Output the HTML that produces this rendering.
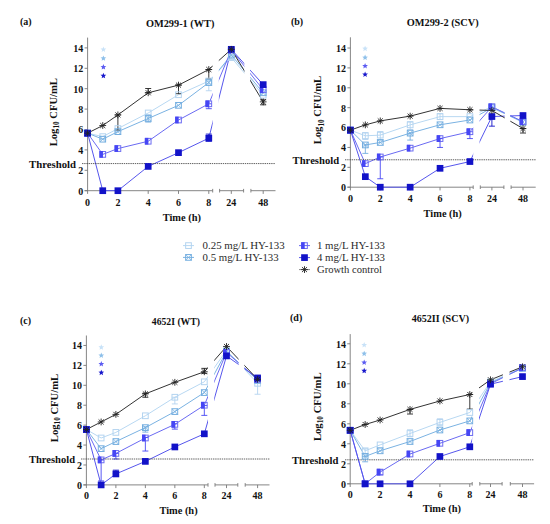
<!DOCTYPE html>
<html><head><meta charset="utf-8"><style>
html,body{margin:0;padding:0;background:#fff;}
body{width:550px;height:524px;overflow:hidden;}
svg{display:block;}
text{font-family:"Liberation Serif",serif;}
.b{font-weight:bold;}
</style></head><body>
<svg width="550" height="524" viewBox="0 0 550 524">
<rect width="550" height="524" fill="#fff"/>

<clipPath id="cla"><rect x="82.6" y="0" width="130.1" height="524"/><rect x="218.8" y="0" width="25.6" height="524"/><rect x="250.1" y="0" width="29.6" height="524"/></clipPath>
<g stroke="#787878" stroke-width="0.9" fill="none">
<path d="M87.6 37.6V193.9"/>
<path d="M84.6 190.7H212.7M219.6 190.7H243.6M250.9 190.7H275.5"/>
<path d="M84.6 190.7H87.6"/>
<path d="M84.6 170.3H87.6"/>
<path d="M84.6 149.9H87.6"/>
<path d="M84.6 129.5H87.6"/>
<path d="M84.6 109.1H87.6"/>
<path d="M84.6 88.7H87.6"/>
<path d="M84.6 68.3H87.6"/>
<path d="M84.6 47.9H87.6"/>
<path d="M117.9 190.7V193.9"/>
<path d="M148.2 190.7V193.9"/>
<path d="M178.5 190.7V193.9"/>
<path d="M208.8 190.7V193.9"/>
<path d="M231.3 190.7V193.9"/>
<path d="M263.2 190.7V193.9"/>
<path d="M212.7 188.9V192.5"/>
<path d="M219.6 188.9V192.5"/>
<path d="M243.6 188.9V192.5"/>
<path d="M250.9 188.9V192.5"/>
</g>
<g class="b" font-size="10" text-anchor="end" fill="#111">
<text x="83.3" y="194.6">0</text>
<text x="83.3" y="174.2">2</text>
<text x="83.3" y="153.8">4</text>
<text x="83.3" y="133.4">6</text>
<text x="83.3" y="113">8</text>
<text x="83.3" y="92.6">10</text>
<text x="83.3" y="72.2">12</text>
<text x="83.3" y="51.8">14</text>
</g>
<g class="b" font-size="10" text-anchor="middle" fill="#111">
<text x="87.6" y="205.5">0</text>
<text x="117.9" y="205.5">2</text>
<text x="148.2" y="205.5">4</text>
<text x="178.5" y="205.5">6</text>
<text x="208.8" y="205.5">8</text>
<text x="231.3" y="205.5">24</text>
<text x="263.2" y="205.5">48</text>
</g>
<g clip-path="url(#cla)" fill="none" stroke-width="1">
<polyline points="87.6,133.17 102.75,136.64 117.9,128.58 148.2,112.98 178.5,94.72 208.8,81.05 231.3,57.59 263.2,95.23" stroke="#b8d8f2"/>
<polyline points="87.6,133.17 102.75,139.19 117.9,131.64 148.2,118.48 178.5,105.33 208.8,82.58 231.3,55.04 263.2,92.78" stroke="#7ab2e2"/>
<polyline points="87.6,133.17 102.75,154.39 117.9,148.57 148.2,141.23 178.5,120.01 208.8,103.8 231.3,49.94 263.2,89.72" stroke="#6a6af2"/>
<polyline points="87.6,133.17 102.75,190.7 117.9,190.7 148.2,166.42 178.5,152.65 208.8,138.17 231.3,49.33 263.2,84.62" stroke="#5656ec"/>
<polyline points="87.6,133.17 102.75,125.52 117.9,114.91 148.2,92.78 178.5,85.13 208.8,69.52 231.3,49.33 263.2,101.86" stroke="#333333"/>
</g>
<g fill="none" stroke-width="0.9">
<path d="M148.2 92.78V88.5M145.2 92.78H151.2M145.2 88.5H151.2" stroke="#222222"/>
<path d="M178.5 93.7V84.93M175.5 93.7H181.5M175.5 84.93H181.5" stroke="#222222"/>
<path d="M117.9 130.11V114.91M114.9 130.11H120.9M114.9 114.91H120.9" stroke="#222222"/>
<path d="M208.8 90.74V81.05M205.8 90.74H211.8M205.8 81.05H211.8" stroke="#b4d4f0"/>
<path d="M208.8 108.69V103.8M205.8 108.69H211.8M205.8 103.8H211.8" stroke="#4646f4"/>
<path d="M208.8 78.81V69.52M205.8 78.81H211.8M205.8 69.52H211.8" stroke="#222222"/>
<path d="M208.8 141.23V134.09M205.8 141.23H211.8M205.8 134.09H211.8" stroke="#1212c8"/>
<path d="M148.2 122.05V114.91M145.2 122.05H151.2M145.2 114.91H151.2" stroke="#74aee0"/>
<path d="M263.2 104.82V99.82M260.2 104.82H266.2M260.2 99.82H266.2" stroke="#222222"/>
<path d="M231.3 59.43V55.35M228.3 59.43H234.3M228.3 55.35H234.3" stroke="#b4d4f0"/>
</g>
<path d="M82 163.57H275" stroke="#3a3a3a" stroke-width="0.8" stroke-dasharray="1.4 0.8"/>
<rect x="84.75" y="130.32" width="5.7" height="5.7" fill="none" stroke="#b4d4f0" stroke-width="1"/>
<rect x="99.9" y="133.79" width="5.7" height="5.7" fill="none" stroke="#b4d4f0" stroke-width="1"/>
<rect x="115.05" y="125.73" width="5.7" height="5.7" fill="none" stroke="#b4d4f0" stroke-width="1"/>
<rect x="145.35" y="110.13" width="5.7" height="5.7" fill="none" stroke="#b4d4f0" stroke-width="1"/>
<rect x="175.65" y="91.87" width="5.7" height="5.7" fill="none" stroke="#b4d4f0" stroke-width="1"/>
<rect x="205.95" y="78.2" width="5.7" height="5.7" fill="none" stroke="#b4d4f0" stroke-width="1"/>
<rect x="228.45" y="54.74" width="5.7" height="5.7" fill="none" stroke="#b4d4f0" stroke-width="1"/>
<rect x="260.35" y="92.38" width="5.7" height="5.7" fill="none" stroke="#b4d4f0" stroke-width="1"/>
<rect x="84.75" y="130.32" width="5.7" height="5.7" fill="none" stroke="#74aee0" stroke-width="1"/><path d="M84.75 130.32L90.45 136.02M90.45 130.32L84.75 136.02" stroke="#74aee0" stroke-width="0.8"/>
<rect x="99.9" y="136.34" width="5.7" height="5.7" fill="none" stroke="#74aee0" stroke-width="1"/><path d="M99.9 136.34L105.6 142.04M105.6 136.34L99.9 142.04" stroke="#74aee0" stroke-width="0.8"/>
<rect x="115.05" y="128.79" width="5.7" height="5.7" fill="none" stroke="#74aee0" stroke-width="1"/><path d="M115.05 128.79L120.75 134.49M120.75 128.79L115.05 134.49" stroke="#74aee0" stroke-width="0.8"/>
<rect x="145.35" y="115.63" width="5.7" height="5.7" fill="none" stroke="#74aee0" stroke-width="1"/><path d="M145.35 115.63L151.05 121.33M151.05 115.63L145.35 121.33" stroke="#74aee0" stroke-width="0.8"/>
<rect x="175.65" y="102.48" width="5.7" height="5.7" fill="none" stroke="#74aee0" stroke-width="1"/><path d="M175.65 102.48L181.35 108.18M181.35 102.48L175.65 108.18" stroke="#74aee0" stroke-width="0.8"/>
<rect x="205.95" y="79.73" width="5.7" height="5.7" fill="none" stroke="#74aee0" stroke-width="1"/><path d="M205.95 79.73L211.65 85.43M211.65 79.73L205.95 85.43" stroke="#74aee0" stroke-width="0.8"/>
<rect x="228.45" y="52.19" width="5.7" height="5.7" fill="none" stroke="#74aee0" stroke-width="1"/><path d="M228.45 52.19L234.15 57.89M234.15 52.19L228.45 57.89" stroke="#74aee0" stroke-width="0.8"/>
<rect x="260.35" y="89.93" width="5.7" height="5.7" fill="none" stroke="#74aee0" stroke-width="1"/><path d="M260.35 89.93L266.05 95.63M266.05 89.93L260.35 95.63" stroke="#74aee0" stroke-width="0.8"/>
<rect x="84.75" y="130.32" width="5.7" height="5.7" fill="none" stroke="#6c6cf2" stroke-width="1"/><rect x="84.25" y="129.82" width="3.55" height="6.7" fill="#4646f4"/>
<rect x="99.9" y="151.54" width="5.7" height="5.7" fill="none" stroke="#6c6cf2" stroke-width="1"/><rect x="99.4" y="151.04" width="3.55" height="6.7" fill="#4646f4"/>
<rect x="115.05" y="145.72" width="5.7" height="5.7" fill="none" stroke="#6c6cf2" stroke-width="1"/><rect x="114.55" y="145.22" width="3.55" height="6.7" fill="#4646f4"/>
<rect x="145.35" y="138.38" width="5.7" height="5.7" fill="none" stroke="#6c6cf2" stroke-width="1"/><rect x="144.85" y="137.88" width="3.55" height="6.7" fill="#4646f4"/>
<rect x="175.65" y="117.16" width="5.7" height="5.7" fill="none" stroke="#6c6cf2" stroke-width="1"/><rect x="175.15" y="116.66" width="3.55" height="6.7" fill="#4646f4"/>
<rect x="205.95" y="100.95" width="5.7" height="5.7" fill="none" stroke="#6c6cf2" stroke-width="1"/><rect x="205.45" y="100.45" width="3.55" height="6.7" fill="#4646f4"/>
<rect x="228.45" y="47.09" width="5.7" height="5.7" fill="none" stroke="#6c6cf2" stroke-width="1"/><rect x="227.95" y="46.59" width="3.55" height="6.7" fill="#4646f4"/>
<rect x="260.35" y="86.87" width="5.7" height="5.7" fill="none" stroke="#6c6cf2" stroke-width="1"/><rect x="259.85" y="86.37" width="3.55" height="6.7" fill="#4646f4"/>
<rect x="84.25" y="129.82" width="6.7" height="6.7" fill="#1212c8"/>
<rect x="99.4" y="187.35" width="6.7" height="6.7" fill="#1212c8"/>
<rect x="114.55" y="187.35" width="6.7" height="6.7" fill="#1212c8"/>
<rect x="144.85" y="163.07" width="6.7" height="6.7" fill="#1212c8"/>
<rect x="175.15" y="149.3" width="6.7" height="6.7" fill="#1212c8"/>
<rect x="205.45" y="134.82" width="6.7" height="6.7" fill="#1212c8"/>
<rect x="227.95" y="45.98" width="6.7" height="6.7" fill="#1212c8"/>
<rect x="259.85" y="81.27" width="6.7" height="6.7" fill="#1212c8"/>
<path d="M87.6 129.77V136.57M84.2 133.17H91M85.08 130.66L90.12 135.69M90.12 130.66L85.08 135.69" stroke="#222222" stroke-width="0.9"/>
<path d="M102.75 122.12V128.92M99.35 125.52H106.15M100.23 123.01L105.27 128.04M105.27 123.01L100.23 128.04" stroke="#222222" stroke-width="0.9"/>
<path d="M117.9 111.51V118.31M114.5 114.91H121.3M115.38 112.4L120.42 117.43M120.42 112.4L115.38 117.43" stroke="#222222" stroke-width="0.9"/>
<path d="M148.2 89.38V96.18M144.8 92.78H151.6M145.68 90.26L150.72 95.3M150.72 90.26L145.68 95.3" stroke="#222222" stroke-width="0.9"/>
<path d="M178.5 81.73V88.53M175.1 85.13H181.9M175.98 82.61L181.02 87.65M181.02 82.61L175.98 87.65" stroke="#222222" stroke-width="0.9"/>
<path d="M208.8 66.12V72.92M205.4 69.52H212.2M206.28 67.01L211.32 72.04M211.32 67.01L206.28 72.04" stroke="#222222" stroke-width="0.9"/>
<path d="M231.3 45.93V52.73M227.9 49.33H234.7M228.78 46.81L233.82 51.84M233.82 46.81L228.78 51.84" stroke="#222222" stroke-width="0.9"/>
<path d="M263.2 98.46V105.26M259.8 101.86H266.6M260.68 99.34L265.72 104.37M265.72 99.34L260.68 104.37" stroke="#222222" stroke-width="0.9"/>
<polygon points="103.4,46.5 104.19,48.41 106.25,48.57 104.68,49.92 105.16,51.93 103.4,50.85 101.64,51.93 102.12,49.92 100.55,48.57 102.61,48.41" fill="#c8e2f8"/>
<polygon points="103.4,55.4 104.19,57.31 106.25,57.47 104.68,58.82 105.16,60.83 103.4,59.75 101.64,60.83 102.12,58.82 100.55,57.47 102.61,57.31" fill="#8ec0ea"/>
<polygon points="103.4,64.1 104.19,66.01 106.25,66.17 104.68,67.52 105.16,69.53 103.4,68.45 101.64,69.53 102.12,67.52 100.55,66.17 102.61,66.01" fill="#5c5cf2"/>
<polygon points="103.4,72.8 104.19,74.71 106.25,74.87 104.68,76.22 105.16,78.23 103.4,77.15 101.64,78.23 102.12,76.22 100.55,74.87 102.61,74.71" fill="#1818cc"/>
<text class="b" x="20" y="25.4" font-size="10" fill="#111">(a)</text>
<text class="b" x="180.2" y="27.3" font-size="11" text-anchor="middle" fill="#111" textLength="68.5" lengthAdjust="spacingAndGlyphs">OM299-1 (WT)</text>
<text class="b" x="76" y="167.5" font-size="11" text-anchor="end" fill="#111" textLength="47" lengthAdjust="spacingAndGlyphs">Threshold</text>
<text class="b" x="181.8" y="220.5" font-size="11" text-anchor="middle" fill="#111" textLength="38.2" lengthAdjust="spacingAndGlyphs">Time (h)</text>
<text class="b" transform="translate(56.8,112.2) rotate(-90)" font-size="11" text-anchor="middle" fill="#111" textLength="68.2" lengthAdjust="spacingAndGlyphs">Log<tspan font-size="7.5" dy="2.5">10</tspan><tspan dy="-2.5"> CFU/mL</tspan></text>
<clipPath id="clb"><rect x="345.4" y="0" width="127.8" height="524"/><rect x="479.5" y="0" width="25.2" height="524"/><rect x="510.3" y="0" width="29.6" height="524"/></clipPath>
<g stroke="#787878" stroke-width="0.9" fill="none">
<path d="M350.4 37.3V190.4"/>
<path d="M347.4 187.2H473.2M480.3 187.2H503.9M511.1 187.2H535.7"/>
<path d="M347.4 187.2H350.4"/>
<path d="M347.4 167.32H350.4"/>
<path d="M347.4 147.44H350.4"/>
<path d="M347.4 127.56H350.4"/>
<path d="M347.4 107.68H350.4"/>
<path d="M347.4 87.8H350.4"/>
<path d="M347.4 67.92H350.4"/>
<path d="M347.4 48.04H350.4"/>
<path d="M380.28 187.2V190.4"/>
<path d="M410.16 187.2V190.4"/>
<path d="M440.04 187.2V190.4"/>
<path d="M469.92 187.2V190.4"/>
<path d="M491.9 187.2V190.4"/>
<path d="M523 187.2V190.4"/>
<path d="M473.2 185.4V189"/>
<path d="M480.3 185.4V189"/>
<path d="M503.9 185.4V189"/>
<path d="M511.1 185.4V189"/>
</g>
<g class="b" font-size="10" text-anchor="end" fill="#111">
<text x="346.1" y="191.1">0</text>
<text x="346.1" y="171.22">2</text>
<text x="346.1" y="151.34">4</text>
<text x="346.1" y="131.46">6</text>
<text x="346.1" y="111.58">8</text>
<text x="346.1" y="91.7">10</text>
<text x="346.1" y="71.82">12</text>
<text x="346.1" y="51.94">14</text>
</g>
<g class="b" font-size="10" text-anchor="middle" fill="#111">
<text x="350.4" y="201.8">0</text>
<text x="380.28" y="201.8">2</text>
<text x="410.16" y="201.8">4</text>
<text x="440.04" y="201.8">6</text>
<text x="469.92" y="201.8">8</text>
<text x="491.9" y="201.8">24</text>
<text x="523" y="201.8">48</text>
</g>
<g clip-path="url(#clb)" fill="none" stroke-width="1">
<polyline points="350.4,130.14 365.34,135.81 380.28,135.11 410.16,124.88 440.04,116.63 469.92,116.63 491.9,106.69 523,122.59" stroke="#b8d8f2"/>
<polyline points="350.4,130.14 365.34,144.95 380.28,142.47 410.16,133.13 440.04,124.78 469.92,120.01 491.9,107.68 523,122.09" stroke="#7ab2e2"/>
<polyline points="350.4,130.14 365.34,163.64 380.28,156.98 410.16,148.14 440.04,138.59 469.92,131.73 491.9,106.79 523,121.6" stroke="#6a6af2"/>
<polyline points="350.4,130.14 365.34,176.66 380.28,187.2 410.16,187.2 440.04,168.31 469.92,161.55 491.9,116.53 523,115.53" stroke="#5656ec"/>
<polyline points="350.4,130.14 365.34,124.88 380.28,120.9 410.16,116.13 440.04,108.38 469.92,109.77 491.9,110.46 523,128.55" stroke="#333333"/>
</g>
<g fill="none" stroke-width="0.9">
<path d="M380.28 178.75V156.98M377.28 178.75H383.28M377.28 156.98H383.28" stroke="#4646f4"/>
<path d="M440.04 147.44V138.59M437.04 147.44H443.04M437.04 138.59H443.04" stroke="#4646f4"/>
<path d="M469.92 138.59V131.73M466.92 138.59H472.92M466.92 131.73H472.92" stroke="#4646f4"/>
<path d="M410.16 140.08V133.13M407.16 140.08H413.16M407.16 133.13H413.16" stroke="#74aee0"/>
<path d="M365.34 153.4V144.95M362.34 153.4H368.34M362.34 144.95H368.34" stroke="#74aee0"/>
<path d="M491.9 126.17V116.53M488.9 126.17H494.9M488.9 116.53H494.9" stroke="#1212c8"/>
<path d="M523 133.03V128.55M520 133.03H526M520 128.55H526" stroke="#222222"/>
<path d="M380.28 140.48V131.54M377.28 140.48H383.28M377.28 131.54H383.28" stroke="#b4d4f0"/>
<path d="M410.16 129.55V121.6M407.16 129.55H413.16M407.16 121.6H413.16" stroke="#b4d4f0"/>
<path d="M365.34 139.49V132.53M362.34 139.49H368.34M362.34 132.53H368.34" stroke="#b4d4f0"/>
<path d="M440.04 119.61V113.64M437.04 119.61H443.04M437.04 113.64H443.04" stroke="#b4d4f0"/>
</g>
<path d="M345 159.77H535.7" stroke="#3a3a3a" stroke-width="0.8" stroke-dasharray="1.4 0.8"/>
<rect x="347.55" y="127.29" width="5.7" height="5.7" fill="none" stroke="#b4d4f0" stroke-width="1"/>
<rect x="362.49" y="132.96" width="5.7" height="5.7" fill="none" stroke="#b4d4f0" stroke-width="1"/>
<rect x="377.43" y="132.26" width="5.7" height="5.7" fill="none" stroke="#b4d4f0" stroke-width="1"/>
<rect x="407.31" y="122.03" width="5.7" height="5.7" fill="none" stroke="#b4d4f0" stroke-width="1"/>
<rect x="437.19" y="113.78" width="5.7" height="5.7" fill="none" stroke="#b4d4f0" stroke-width="1"/>
<rect x="467.07" y="113.78" width="5.7" height="5.7" fill="none" stroke="#b4d4f0" stroke-width="1"/>
<rect x="489.05" y="103.84" width="5.7" height="5.7" fill="none" stroke="#b4d4f0" stroke-width="1"/>
<rect x="520.15" y="119.74" width="5.7" height="5.7" fill="none" stroke="#b4d4f0" stroke-width="1"/>
<rect x="347.55" y="127.29" width="5.7" height="5.7" fill="none" stroke="#74aee0" stroke-width="1"/><path d="M347.55 127.29L353.25 132.99M353.25 127.29L347.55 132.99" stroke="#74aee0" stroke-width="0.8"/>
<rect x="362.49" y="142.1" width="5.7" height="5.7" fill="none" stroke="#74aee0" stroke-width="1"/><path d="M362.49 142.1L368.19 147.8M368.19 142.1L362.49 147.8" stroke="#74aee0" stroke-width="0.8"/>
<rect x="377.43" y="139.62" width="5.7" height="5.7" fill="none" stroke="#74aee0" stroke-width="1"/><path d="M377.43 139.62L383.13 145.32M383.13 139.62L377.43 145.32" stroke="#74aee0" stroke-width="0.8"/>
<rect x="407.31" y="130.28" width="5.7" height="5.7" fill="none" stroke="#74aee0" stroke-width="1"/><path d="M407.31 130.28L413.01 135.98M413.01 130.28L407.31 135.98" stroke="#74aee0" stroke-width="0.8"/>
<rect x="437.19" y="121.93" width="5.7" height="5.7" fill="none" stroke="#74aee0" stroke-width="1"/><path d="M437.19 121.93L442.89 127.63M442.89 121.93L437.19 127.63" stroke="#74aee0" stroke-width="0.8"/>
<rect x="467.07" y="117.16" width="5.7" height="5.7" fill="none" stroke="#74aee0" stroke-width="1"/><path d="M467.07 117.16L472.77 122.86M472.77 117.16L467.07 122.86" stroke="#74aee0" stroke-width="0.8"/>
<rect x="489.05" y="104.83" width="5.7" height="5.7" fill="none" stroke="#74aee0" stroke-width="1"/><path d="M489.05 104.83L494.75 110.53M494.75 104.83L489.05 110.53" stroke="#74aee0" stroke-width="0.8"/>
<rect x="520.15" y="119.24" width="5.7" height="5.7" fill="none" stroke="#74aee0" stroke-width="1"/><path d="M520.15 119.24L525.85 124.94M525.85 119.24L520.15 124.94" stroke="#74aee0" stroke-width="0.8"/>
<rect x="347.55" y="127.29" width="5.7" height="5.7" fill="none" stroke="#6c6cf2" stroke-width="1"/><rect x="347.05" y="126.79" width="3.55" height="6.7" fill="#4646f4"/>
<rect x="362.49" y="160.79" width="5.7" height="5.7" fill="none" stroke="#6c6cf2" stroke-width="1"/><rect x="361.99" y="160.29" width="3.55" height="6.7" fill="#4646f4"/>
<rect x="377.43" y="154.13" width="5.7" height="5.7" fill="none" stroke="#6c6cf2" stroke-width="1"/><rect x="376.93" y="153.63" width="3.55" height="6.7" fill="#4646f4"/>
<rect x="407.31" y="145.29" width="5.7" height="5.7" fill="none" stroke="#6c6cf2" stroke-width="1"/><rect x="406.81" y="144.79" width="3.55" height="6.7" fill="#4646f4"/>
<rect x="437.19" y="135.74" width="5.7" height="5.7" fill="none" stroke="#6c6cf2" stroke-width="1"/><rect x="436.69" y="135.24" width="3.55" height="6.7" fill="#4646f4"/>
<rect x="467.07" y="128.88" width="5.7" height="5.7" fill="none" stroke="#6c6cf2" stroke-width="1"/><rect x="466.57" y="128.38" width="3.55" height="6.7" fill="#4646f4"/>
<rect x="489.05" y="103.94" width="5.7" height="5.7" fill="none" stroke="#6c6cf2" stroke-width="1"/><rect x="488.55" y="103.44" width="3.55" height="6.7" fill="#4646f4"/>
<rect x="520.15" y="118.75" width="5.7" height="5.7" fill="none" stroke="#6c6cf2" stroke-width="1"/><rect x="519.65" y="118.25" width="3.55" height="6.7" fill="#4646f4"/>
<rect x="347.05" y="126.79" width="6.7" height="6.7" fill="#1212c8"/>
<rect x="361.99" y="173.31" width="6.7" height="6.7" fill="#1212c8"/>
<rect x="376.93" y="183.85" width="6.7" height="6.7" fill="#1212c8"/>
<rect x="406.81" y="183.85" width="6.7" height="6.7" fill="#1212c8"/>
<rect x="436.69" y="164.96" width="6.7" height="6.7" fill="#1212c8"/>
<rect x="466.57" y="158.2" width="6.7" height="6.7" fill="#1212c8"/>
<rect x="488.55" y="113.18" width="6.7" height="6.7" fill="#1212c8"/>
<rect x="519.65" y="112.18" width="6.7" height="6.7" fill="#1212c8"/>
<path d="M350.4 126.74V133.54M347 130.14H353.8M347.88 127.63L352.92 132.66M352.92 127.63L347.88 132.66" stroke="#222222" stroke-width="0.9"/>
<path d="M365.34 121.48V128.28M361.94 124.88H368.74M362.82 122.36L367.86 127.39M367.86 122.36L362.82 127.39" stroke="#222222" stroke-width="0.9"/>
<path d="M380.28 117.5V124.3M376.88 120.9H383.68M377.76 118.38L382.8 123.42M382.8 118.38L377.76 123.42" stroke="#222222" stroke-width="0.9"/>
<path d="M410.16 112.73V119.53M406.76 116.13H413.56M407.64 113.61L412.68 118.64M412.68 113.61L407.64 118.64" stroke="#222222" stroke-width="0.9"/>
<path d="M440.04 104.98V111.78M436.64 108.38H443.44M437.52 105.86L442.56 110.89M442.56 105.86L437.52 110.89" stroke="#222222" stroke-width="0.9"/>
<path d="M469.92 106.37V113.17M466.52 109.77H473.32M467.4 107.25L472.44 112.28M472.44 107.25L467.4 112.28" stroke="#222222" stroke-width="0.9"/>
<path d="M491.9 107.06V113.86M488.5 110.46H495.3M489.38 107.95L494.42 112.98M494.42 107.95L489.38 112.98" stroke="#222222" stroke-width="0.9"/>
<path d="M523 125.15V131.95M519.6 128.55H526.4M520.48 126.04L525.52 131.07M525.52 126.04L520.48 131.07" stroke="#222222" stroke-width="0.9"/>
<polygon points="365.1,45.7 365.89,47.61 367.95,47.77 366.38,49.12 366.86,51.13 365.1,50.05 363.34,51.13 363.82,49.12 362.25,47.77 364.31,47.61" fill="#c8e2f8"/>
<polygon points="365.1,54.6 365.89,56.51 367.95,56.67 366.38,58.02 366.86,60.03 365.1,58.95 363.34,60.03 363.82,58.02 362.25,56.67 364.31,56.51" fill="#8ec0ea"/>
<polygon points="365.1,63 365.89,64.91 367.95,65.07 366.38,66.42 366.86,68.43 365.1,67.35 363.34,68.43 363.82,66.42 362.25,65.07 364.31,64.91" fill="#5c5cf2"/>
<polygon points="365.1,71.5 365.89,73.41 367.95,73.57 366.38,74.92 366.86,76.93 365.1,75.85 363.34,76.93 363.82,74.92 362.25,73.57 364.31,73.41" fill="#1818cc"/>
<text class="b" x="290.9" y="25.4" font-size="10" fill="#111">(b)</text>
<text class="b" x="442.7" y="26.4" font-size="11" text-anchor="middle" fill="#111" textLength="72" lengthAdjust="spacingAndGlyphs">OM299-2 (SCV)</text>
<text class="b" x="339.1" y="163.6" font-size="11" text-anchor="end" fill="#111" textLength="46.5" lengthAdjust="spacingAndGlyphs">Threshold</text>
<text class="b" x="442.7" y="216.9" font-size="11" text-anchor="middle" fill="#111" textLength="38.2" lengthAdjust="spacingAndGlyphs">Time (h)</text>
<text class="b" transform="translate(321.4,110.1) rotate(-90)" font-size="11" text-anchor="middle" fill="#111" textLength="68.4" lengthAdjust="spacingAndGlyphs">Log<tspan font-size="7.5" dy="2.5">10</tspan><tspan dy="-2.5"> CFU/mL</tspan></text>
<clipPath id="clc"><rect x="81.4" y="0" width="126.6" height="524"/><rect x="214.2" y="0" width="24.4" height="524"/><rect x="244.4" y="0" width="29.3" height="524"/></clipPath>
<g stroke="#787878" stroke-width="0.9" fill="none">
<path d="M86.4 335.5V488.1"/>
<path d="M83.4 484.9H208M215 484.9H237.8M245.2 484.9H269.5"/>
<path d="M83.4 484.9H86.4"/>
<path d="M83.4 464.98H86.4"/>
<path d="M83.4 445.06H86.4"/>
<path d="M83.4 425.14H86.4"/>
<path d="M83.4 405.22H86.4"/>
<path d="M83.4 385.3H86.4"/>
<path d="M83.4 365.38H86.4"/>
<path d="M83.4 345.46H86.4"/>
<path d="M115.88 484.9V488.1"/>
<path d="M145.36 484.9V488.1"/>
<path d="M174.84 484.9V488.1"/>
<path d="M204.32 484.9V488.1"/>
<path d="M226.5 484.9V488.1"/>
<path d="M257.6 484.9V488.1"/>
<path d="M208 483.1V486.7"/>
<path d="M215 483.1V486.7"/>
<path d="M237.8 483.1V486.7"/>
<path d="M245.2 483.1V486.7"/>
</g>
<g class="b" font-size="10" text-anchor="end" fill="#111">
<text x="82.1" y="488.8">0</text>
<text x="82.1" y="468.88">2</text>
<text x="82.1" y="448.96">4</text>
<text x="82.1" y="429.04">6</text>
<text x="82.1" y="409.12">8</text>
<text x="82.1" y="389.2">10</text>
<text x="82.1" y="369.28">12</text>
<text x="82.1" y="349.36">14</text>
</g>
<g class="b" font-size="10" text-anchor="middle" fill="#111">
<text x="86.4" y="498.9">0</text>
<text x="115.88" y="498.9">2</text>
<text x="145.36" y="498.9">4</text>
<text x="174.84" y="498.9">6</text>
<text x="204.32" y="498.9">8</text>
<text x="226.5" y="498.9">24</text>
<text x="257.6" y="498.9">48</text>
</g>
<g clip-path="url(#clc)" fill="none" stroke-width="1">
<polyline points="86.4,429.52 101.14,437.99 115.88,432.41 145.36,415.78 174.84,397.25 204.32,381.81 226.5,350.44 257.6,383.31" stroke="#b8d8f2"/>
<polyline points="86.4,429.52 101.14,448.65 115.88,441.57 145.36,427.63 174.84,411.59 204.32,392.57 226.5,351.44 257.6,380.32" stroke="#7ab2e2"/>
<polyline points="86.4,429.52 101.14,459.9 115.88,453.43 145.36,437.99 174.84,424.34 204.32,405.22 226.5,352.43 257.6,379.32" stroke="#6a6af2"/>
<polyline points="86.4,429.52 101.14,484.9 115.88,473.94 145.36,461.39 174.84,446.95 204.32,433.81 226.5,355.92 257.6,377.93" stroke="#5656ec"/>
<polyline points="86.4,429.52 101.14,421.95 115.88,414.38 145.36,393.87 174.84,382.31 204.32,371.75 226.5,346.46 257.6,379.32" stroke="#333333"/>
</g>
<g fill="none" stroke-width="0.9">
<path d="M145.36 397.25V393.27M142.36 397.25H148.36M142.36 393.27H148.36" stroke="#222222"/>
<path d="M145.36 432.11V426.83M142.36 432.11H148.36M142.36 426.83H148.36" stroke="#74aee0"/>
<path d="M174.84 403.93V397.25M171.84 403.93H177.84M171.84 397.25H177.84" stroke="#b4d4f0"/>
<path d="M174.84 429.12V423.85M171.84 429.12H177.84M171.84 423.85H177.84" stroke="#4646f4"/>
<path d="M204.32 415.38V405.52M201.32 415.38H207.32M201.32 405.52H207.32" stroke="#4646f4"/>
<path d="M145.36 451.04V437.49M142.36 451.04H148.36M142.36 437.49H148.36" stroke="#4646f4"/>
<path d="M257.6 394.26V383.31M254.6 394.26H260.6M254.6 383.31H260.6" stroke="#b4d4f0"/>
<path d="M115.88 459V453.43M112.88 459H118.88M112.88 453.43H118.88" stroke="#4646f4"/>
<path d="M101.14 480.92V460M98.14 480.92H104.14M98.14 460H104.14" stroke="#4646f4"/>
<path d="M115.88 473.74V470.16M112.88 473.74H118.88M112.88 470.16H118.88" stroke="#1212c8"/>
<path d="M204.32 373.35V368.37M201.32 373.35H207.32M201.32 368.37H207.32" stroke="#222222"/>
</g>
<path d="M81 459H269.5" stroke="#3a3a3a" stroke-width="0.8" stroke-dasharray="1.4 0.8"/>
<rect x="83.55" y="426.67" width="5.7" height="5.7" fill="none" stroke="#b4d4f0" stroke-width="1"/>
<rect x="98.29" y="435.14" width="5.7" height="5.7" fill="none" stroke="#b4d4f0" stroke-width="1"/>
<rect x="113.03" y="429.56" width="5.7" height="5.7" fill="none" stroke="#b4d4f0" stroke-width="1"/>
<rect x="142.51" y="412.93" width="5.7" height="5.7" fill="none" stroke="#b4d4f0" stroke-width="1"/>
<rect x="171.99" y="394.4" width="5.7" height="5.7" fill="none" stroke="#b4d4f0" stroke-width="1"/>
<rect x="201.47" y="378.96" width="5.7" height="5.7" fill="none" stroke="#b4d4f0" stroke-width="1"/>
<rect x="223.65" y="347.59" width="5.7" height="5.7" fill="none" stroke="#b4d4f0" stroke-width="1"/>
<rect x="254.75" y="380.46" width="5.7" height="5.7" fill="none" stroke="#b4d4f0" stroke-width="1"/>
<rect x="83.55" y="426.67" width="5.7" height="5.7" fill="none" stroke="#74aee0" stroke-width="1"/><path d="M83.55 426.67L89.25 432.37M89.25 426.67L83.55 432.37" stroke="#74aee0" stroke-width="0.8"/>
<rect x="98.29" y="445.8" width="5.7" height="5.7" fill="none" stroke="#74aee0" stroke-width="1"/><path d="M98.29 445.8L103.99 451.5M103.99 445.8L98.29 451.5" stroke="#74aee0" stroke-width="0.8"/>
<rect x="113.03" y="438.72" width="5.7" height="5.7" fill="none" stroke="#74aee0" stroke-width="1"/><path d="M113.03 438.72L118.73 444.42M118.73 438.72L113.03 444.42" stroke="#74aee0" stroke-width="0.8"/>
<rect x="142.51" y="424.78" width="5.7" height="5.7" fill="none" stroke="#74aee0" stroke-width="1"/><path d="M142.51 424.78L148.21 430.48M148.21 424.78L142.51 430.48" stroke="#74aee0" stroke-width="0.8"/>
<rect x="171.99" y="408.74" width="5.7" height="5.7" fill="none" stroke="#74aee0" stroke-width="1"/><path d="M171.99 408.74L177.69 414.44M177.69 408.74L171.99 414.44" stroke="#74aee0" stroke-width="0.8"/>
<rect x="201.47" y="389.72" width="5.7" height="5.7" fill="none" stroke="#74aee0" stroke-width="1"/><path d="M201.47 389.72L207.17 395.42M207.17 389.72L201.47 395.42" stroke="#74aee0" stroke-width="0.8"/>
<rect x="223.65" y="348.59" width="5.7" height="5.7" fill="none" stroke="#74aee0" stroke-width="1"/><path d="M223.65 348.59L229.35 354.29M229.35 348.59L223.65 354.29" stroke="#74aee0" stroke-width="0.8"/>
<rect x="254.75" y="377.47" width="5.7" height="5.7" fill="none" stroke="#74aee0" stroke-width="1"/><path d="M254.75 377.47L260.45 383.17M260.45 377.47L254.75 383.17" stroke="#74aee0" stroke-width="0.8"/>
<rect x="83.55" y="426.67" width="5.7" height="5.7" fill="none" stroke="#6c6cf2" stroke-width="1"/><rect x="83.05" y="426.17" width="3.55" height="6.7" fill="#4646f4"/>
<rect x="98.29" y="457.05" width="5.7" height="5.7" fill="none" stroke="#6c6cf2" stroke-width="1"/><rect x="97.79" y="456.55" width="3.55" height="6.7" fill="#4646f4"/>
<rect x="113.03" y="450.58" width="5.7" height="5.7" fill="none" stroke="#6c6cf2" stroke-width="1"/><rect x="112.53" y="450.08" width="3.55" height="6.7" fill="#4646f4"/>
<rect x="142.51" y="435.14" width="5.7" height="5.7" fill="none" stroke="#6c6cf2" stroke-width="1"/><rect x="142.01" y="434.64" width="3.55" height="6.7" fill="#4646f4"/>
<rect x="171.99" y="421.49" width="5.7" height="5.7" fill="none" stroke="#6c6cf2" stroke-width="1"/><rect x="171.49" y="420.99" width="3.55" height="6.7" fill="#4646f4"/>
<rect x="201.47" y="402.37" width="5.7" height="5.7" fill="none" stroke="#6c6cf2" stroke-width="1"/><rect x="200.97" y="401.87" width="3.55" height="6.7" fill="#4646f4"/>
<rect x="223.65" y="349.58" width="5.7" height="5.7" fill="none" stroke="#6c6cf2" stroke-width="1"/><rect x="223.15" y="349.08" width="3.55" height="6.7" fill="#4646f4"/>
<rect x="254.75" y="376.47" width="5.7" height="5.7" fill="none" stroke="#6c6cf2" stroke-width="1"/><rect x="254.25" y="375.97" width="3.55" height="6.7" fill="#4646f4"/>
<rect x="83.05" y="426.17" width="6.7" height="6.7" fill="#1212c8"/>
<rect x="97.79" y="481.55" width="6.7" height="6.7" fill="#1212c8"/>
<rect x="112.53" y="470.59" width="6.7" height="6.7" fill="#1212c8"/>
<rect x="142.01" y="458.04" width="6.7" height="6.7" fill="#1212c8"/>
<rect x="171.49" y="443.6" width="6.7" height="6.7" fill="#1212c8"/>
<rect x="200.97" y="430.46" width="6.7" height="6.7" fill="#1212c8"/>
<rect x="223.15" y="352.57" width="6.7" height="6.7" fill="#1212c8"/>
<rect x="254.25" y="374.58" width="6.7" height="6.7" fill="#1212c8"/>
<path d="M86.4 426.12V432.92M83 429.52H89.8M83.88 427.01L88.92 432.04M88.92 427.01L83.88 432.04" stroke="#222222" stroke-width="0.9"/>
<path d="M101.14 418.55V425.35M97.74 421.95H104.54M98.62 419.44L103.66 424.47M103.66 419.44L98.62 424.47" stroke="#222222" stroke-width="0.9"/>
<path d="M115.88 410.98V417.78M112.48 414.38H119.28M113.36 411.87L118.4 416.9M118.4 411.87L113.36 416.9" stroke="#222222" stroke-width="0.9"/>
<path d="M145.36 390.47V397.27M141.96 393.87H148.76M142.84 391.35L147.88 396.38M147.88 391.35L142.84 396.38" stroke="#222222" stroke-width="0.9"/>
<path d="M174.84 378.91V385.71M171.44 382.31H178.24M172.32 379.8L177.36 384.83M177.36 379.8L172.32 384.83" stroke="#222222" stroke-width="0.9"/>
<path d="M204.32 368.35V375.15M200.92 371.75H207.72M201.8 369.24L206.84 374.27M206.84 369.24L201.8 374.27" stroke="#222222" stroke-width="0.9"/>
<path d="M226.5 343.06V349.86M223.1 346.46H229.9M223.98 343.94L229.02 348.97M229.02 343.94L223.98 348.97" stroke="#222222" stroke-width="0.9"/>
<path d="M257.6 375.92V382.72M254.2 379.32H261M255.08 376.81L260.12 381.84M260.12 376.81L255.08 381.84" stroke="#222222" stroke-width="0.9"/>
<polygon points="101.3,344.3 102.09,346.21 104.15,346.37 102.58,347.72 103.06,349.73 101.3,348.65 99.54,349.73 100.02,347.72 98.45,346.37 100.51,346.21" fill="#c8e2f8"/>
<polygon points="101.3,352.5 102.09,354.41 104.15,354.57 102.58,355.92 103.06,357.93 101.3,356.85 99.54,357.93 100.02,355.92 98.45,354.57 100.51,354.41" fill="#8ec0ea"/>
<polygon points="101.3,361 102.09,362.91 104.15,363.07 102.58,364.42 103.06,366.43 101.3,365.35 99.54,366.43 100.02,364.42 98.45,363.07 100.51,362.91" fill="#5c5cf2"/>
<polygon points="101.3,369.7 102.09,371.61 104.15,371.77 102.58,373.12 103.06,375.13 101.3,374.05 99.54,375.13 100.02,373.12 98.45,371.77 100.51,371.61" fill="#1818cc"/>
<text class="b" x="20" y="323.6" font-size="10" fill="#111">(c)</text>
<text class="b" x="175.9" y="325" font-size="11" text-anchor="middle" fill="#111" textLength="48.2" lengthAdjust="spacingAndGlyphs">4652I (WT)</text>
<text class="b" x="75" y="462.7" font-size="11" text-anchor="end" fill="#111" textLength="46" lengthAdjust="spacingAndGlyphs">Threshold</text>
<text class="b" x="178.5" y="513.8" font-size="11" text-anchor="middle" fill="#111" textLength="38.2" lengthAdjust="spacingAndGlyphs">Time (h)</text>
<text class="b" transform="translate(57.8,408) rotate(-90)" font-size="11" text-anchor="middle" fill="#111" textLength="68.3" lengthAdjust="spacingAndGlyphs">Log<tspan font-size="7.5" dy="2.5">10</tspan><tspan dy="-2.5"> CFU/mL</tspan></text>
<clipPath id="cld"><rect x="345.2" y="0" width="127" height="524"/><rect x="479" y="0" width="23.9" height="524"/><rect x="509.5" y="0" width="28.8" height="524"/></clipPath>
<g stroke="#787878" stroke-width="0.9" fill="none">
<path d="M350.2 334.1V487"/>
<path d="M347.2 483.8H472.2M479.8 483.8H502.1M510.3 483.8H534.1"/>
<path d="M347.2 483.8H350.2"/>
<path d="M347.2 463.8H350.2"/>
<path d="M347.2 443.8H350.2"/>
<path d="M347.2 423.8H350.2"/>
<path d="M347.2 403.8H350.2"/>
<path d="M347.2 383.8H350.2"/>
<path d="M347.2 363.8H350.2"/>
<path d="M347.2 343.8H350.2"/>
<path d="M380.1 483.8V487"/>
<path d="M410 483.8V487"/>
<path d="M439.9 483.8V487"/>
<path d="M469.8 483.8V487"/>
<path d="M490.5 483.8V487"/>
<path d="M522.5 483.8V487"/>
<path d="M472.2 482V485.6"/>
<path d="M479.8 482V485.6"/>
<path d="M502.1 482V485.6"/>
<path d="M510.3 482V485.6"/>
</g>
<g class="b" font-size="10" text-anchor="end" fill="#111">
<text x="345.9" y="487.7">0</text>
<text x="345.9" y="467.7">2</text>
<text x="345.9" y="447.7">4</text>
<text x="345.9" y="427.7">6</text>
<text x="345.9" y="407.7">8</text>
<text x="345.9" y="387.7">10</text>
<text x="345.9" y="367.7">12</text>
<text x="345.9" y="347.7">14</text>
</g>
<g class="b" font-size="10" text-anchor="middle" fill="#111">
<text x="350.2" y="497.9">0</text>
<text x="380.1" y="497.9">2</text>
<text x="410" y="497.9">4</text>
<text x="439.9" y="497.9">6</text>
<text x="469.8" y="497.9">8</text>
<text x="490.5" y="497.9">24</text>
<text x="522.5" y="497.9">48</text>
</g>
<g clip-path="url(#cld)" fill="none" stroke-width="1">
<polyline points="350.2,430.3 365.15,450.8 380.1,444.9 410,433.5 439.9,422.4 469.8,412.5 490.5,381.8 522.5,367.8" stroke="#b8d8f2"/>
<polyline points="350.2,430.3 365.15,456.4 380.1,450.8 410,441.5 439.9,430 469.8,420.9 490.5,382.8 522.5,368.3" stroke="#7ab2e2"/>
<polyline points="350.2,430.3 365.15,483.8 380.1,472.1 410,454 439.9,443.3 469.8,432.6 490.5,383.8 522.5,367.8" stroke="#6a6af2"/>
<polyline points="350.2,430.3 365.15,483.8 380.1,483.8 410,483.8 439.9,456.5 469.8,446.8 490.5,384.2 522.5,376.6" stroke="#5656ec"/>
<polyline points="350.2,430.3 365.15,424.5 380.1,420 410,409.4 439.9,401 469.8,394.5 490.5,379.8 522.5,366.8" stroke="#333333"/>
</g>
<g fill="none" stroke-width="0.9">
<path d="M469.8 409.1V394.5M466.8 409.1H472.8M466.8 394.5H472.8" stroke="#222222"/>
<path d="M410 414V409.4M407 414H413M407 409.4H413" stroke="#222222"/>
<path d="M365.15 461.8V456.4M362.15 461.8H368.15M362.15 456.4H368.15" stroke="#74aee0"/>
<path d="M380.1 474.8V469.8M377.1 474.8H383.1M377.1 469.8H383.1" stroke="#4646f4"/>
<path d="M410 436.8V429.8M407 436.8H413M407 429.8H413" stroke="#b4d4f0"/>
<path d="M439.9 424.8V418.8M436.9 424.8H442.9M436.9 418.8H442.9" stroke="#b4d4f0"/>
<path d="M365.15 454.8V448.8M362.15 454.8H368.15M362.15 448.8H368.15" stroke="#b4d4f0"/>
</g>
<path d="M345 459.8H534.1" stroke="#3a3a3a" stroke-width="0.8" stroke-dasharray="1.4 0.8"/>
<rect x="347.35" y="427.45" width="5.7" height="5.7" fill="none" stroke="#b4d4f0" stroke-width="1"/>
<rect x="362.3" y="447.95" width="5.7" height="5.7" fill="none" stroke="#b4d4f0" stroke-width="1"/>
<rect x="377.25" y="442.05" width="5.7" height="5.7" fill="none" stroke="#b4d4f0" stroke-width="1"/>
<rect x="407.15" y="430.65" width="5.7" height="5.7" fill="none" stroke="#b4d4f0" stroke-width="1"/>
<rect x="437.05" y="419.55" width="5.7" height="5.7" fill="none" stroke="#b4d4f0" stroke-width="1"/>
<rect x="466.95" y="409.65" width="5.7" height="5.7" fill="none" stroke="#b4d4f0" stroke-width="1"/>
<rect x="487.65" y="378.95" width="5.7" height="5.7" fill="none" stroke="#b4d4f0" stroke-width="1"/>
<rect x="519.65" y="364.95" width="5.7" height="5.7" fill="none" stroke="#b4d4f0" stroke-width="1"/>
<rect x="347.35" y="427.45" width="5.7" height="5.7" fill="none" stroke="#74aee0" stroke-width="1"/><path d="M347.35 427.45L353.05 433.15M353.05 427.45L347.35 433.15" stroke="#74aee0" stroke-width="0.8"/>
<rect x="362.3" y="453.55" width="5.7" height="5.7" fill="none" stroke="#74aee0" stroke-width="1"/><path d="M362.3 453.55L368 459.25M368 453.55L362.3 459.25" stroke="#74aee0" stroke-width="0.8"/>
<rect x="377.25" y="447.95" width="5.7" height="5.7" fill="none" stroke="#74aee0" stroke-width="1"/><path d="M377.25 447.95L382.95 453.65M382.95 447.95L377.25 453.65" stroke="#74aee0" stroke-width="0.8"/>
<rect x="407.15" y="438.65" width="5.7" height="5.7" fill="none" stroke="#74aee0" stroke-width="1"/><path d="M407.15 438.65L412.85 444.35M412.85 438.65L407.15 444.35" stroke="#74aee0" stroke-width="0.8"/>
<rect x="437.05" y="427.15" width="5.7" height="5.7" fill="none" stroke="#74aee0" stroke-width="1"/><path d="M437.05 427.15L442.75 432.85M442.75 427.15L437.05 432.85" stroke="#74aee0" stroke-width="0.8"/>
<rect x="466.95" y="418.05" width="5.7" height="5.7" fill="none" stroke="#74aee0" stroke-width="1"/><path d="M466.95 418.05L472.65 423.75M472.65 418.05L466.95 423.75" stroke="#74aee0" stroke-width="0.8"/>
<rect x="487.65" y="379.95" width="5.7" height="5.7" fill="none" stroke="#74aee0" stroke-width="1"/><path d="M487.65 379.95L493.35 385.65M493.35 379.95L487.65 385.65" stroke="#74aee0" stroke-width="0.8"/>
<rect x="519.65" y="365.45" width="5.7" height="5.7" fill="none" stroke="#74aee0" stroke-width="1"/><path d="M519.65 365.45L525.35 371.15M525.35 365.45L519.65 371.15" stroke="#74aee0" stroke-width="0.8"/>
<rect x="347.35" y="427.45" width="5.7" height="5.7" fill="none" stroke="#6c6cf2" stroke-width="1"/><rect x="346.85" y="426.95" width="3.55" height="6.7" fill="#4646f4"/>
<rect x="362.3" y="480.95" width="5.7" height="5.7" fill="none" stroke="#6c6cf2" stroke-width="1"/><rect x="361.8" y="480.45" width="3.55" height="6.7" fill="#4646f4"/>
<rect x="377.25" y="469.25" width="5.7" height="5.7" fill="none" stroke="#6c6cf2" stroke-width="1"/><rect x="376.75" y="468.75" width="3.55" height="6.7" fill="#4646f4"/>
<rect x="407.15" y="451.15" width="5.7" height="5.7" fill="none" stroke="#6c6cf2" stroke-width="1"/><rect x="406.65" y="450.65" width="3.55" height="6.7" fill="#4646f4"/>
<rect x="437.05" y="440.45" width="5.7" height="5.7" fill="none" stroke="#6c6cf2" stroke-width="1"/><rect x="436.55" y="439.95" width="3.55" height="6.7" fill="#4646f4"/>
<rect x="466.95" y="429.75" width="5.7" height="5.7" fill="none" stroke="#6c6cf2" stroke-width="1"/><rect x="466.45" y="429.25" width="3.55" height="6.7" fill="#4646f4"/>
<rect x="487.65" y="380.95" width="5.7" height="5.7" fill="none" stroke="#6c6cf2" stroke-width="1"/><rect x="487.15" y="380.45" width="3.55" height="6.7" fill="#4646f4"/>
<rect x="519.65" y="364.95" width="5.7" height="5.7" fill="none" stroke="#6c6cf2" stroke-width="1"/><rect x="519.15" y="364.45" width="3.55" height="6.7" fill="#4646f4"/>
<rect x="346.85" y="426.95" width="6.7" height="6.7" fill="#1212c8"/>
<rect x="361.8" y="480.45" width="6.7" height="6.7" fill="#1212c8"/>
<rect x="376.75" y="480.45" width="6.7" height="6.7" fill="#1212c8"/>
<rect x="406.65" y="480.45" width="6.7" height="6.7" fill="#1212c8"/>
<rect x="436.55" y="453.15" width="6.7" height="6.7" fill="#1212c8"/>
<rect x="466.45" y="443.45" width="6.7" height="6.7" fill="#1212c8"/>
<rect x="487.15" y="380.85" width="6.7" height="6.7" fill="#1212c8"/>
<rect x="519.15" y="373.25" width="6.7" height="6.7" fill="#1212c8"/>
<path d="M350.2 426.9V433.7M346.8 430.3H353.6M347.68 427.78L352.72 432.82M352.72 427.78L347.68 432.82" stroke="#222222" stroke-width="0.9"/>
<path d="M365.15 421.1V427.9M361.75 424.5H368.55M362.63 421.98L367.67 427.02M367.67 421.98L362.63 427.02" stroke="#222222" stroke-width="0.9"/>
<path d="M380.1 416.6V423.4M376.7 420H383.5M377.58 417.48L382.62 422.52M382.62 417.48L377.58 422.52" stroke="#222222" stroke-width="0.9"/>
<path d="M410 406V412.8M406.6 409.4H413.4M407.48 406.88L412.52 411.92M412.52 406.88L407.48 411.92" stroke="#222222" stroke-width="0.9"/>
<path d="M439.9 397.6V404.4M436.5 401H443.3M437.38 398.48L442.42 403.52M442.42 398.48L437.38 403.52" stroke="#222222" stroke-width="0.9"/>
<path d="M469.8 391.1V397.9M466.4 394.5H473.2M467.28 391.98L472.32 397.02M472.32 391.98L467.28 397.02" stroke="#222222" stroke-width="0.9"/>
<path d="M490.5 376.4V383.2M487.1 379.8H493.9M487.98 377.28L493.02 382.32M493.02 377.28L487.98 382.32" stroke="#222222" stroke-width="0.9"/>
<path d="M522.5 363.4V370.2M519.1 366.8H525.9M519.98 364.28L525.02 369.32M525.02 364.28L519.98 369.32" stroke="#222222" stroke-width="0.9"/>
<polygon points="364.2,342 364.99,343.91 367.05,344.07 365.48,345.42 365.96,347.43 364.2,346.35 362.44,347.43 362.92,345.42 361.35,344.07 363.41,343.91" fill="#c8e2f8"/>
<polygon points="364.2,350.7 364.99,352.61 367.05,352.77 365.48,354.12 365.96,356.13 364.2,355.05 362.44,356.13 362.92,354.12 361.35,352.77 363.41,352.61" fill="#8ec0ea"/>
<polygon points="364.2,359.5 364.99,361.41 367.05,361.57 365.48,362.92 365.96,364.93 364.2,363.85 362.44,364.93 362.92,362.92 361.35,361.57 363.41,361.41" fill="#5c5cf2"/>
<polygon points="364.2,367.8 364.99,369.71 367.05,369.87 365.48,371.22 365.96,373.23 364.2,372.15 362.44,373.23 362.92,371.22 361.35,369.87 363.41,369.71" fill="#1818cc"/>
<text class="b" x="290" y="321.3" font-size="10" fill="#111">(d)</text>
<text class="b" x="440.4" y="322.3" font-size="11" text-anchor="middle" fill="#111" textLength="57.3" lengthAdjust="spacingAndGlyphs">4652II (SCV)</text>
<text class="b" x="338.5" y="463.6" font-size="11" text-anchor="end" fill="#111" textLength="46.6" lengthAdjust="spacingAndGlyphs">Threshold</text>
<text class="b" x="441.8" y="512.4" font-size="11" text-anchor="middle" fill="#111" textLength="38.2" lengthAdjust="spacingAndGlyphs">Time (h)</text>
<text class="b" transform="translate(320.8,406.8) rotate(-90)" font-size="11" text-anchor="middle" fill="#111" textLength="68.6" lengthAdjust="spacingAndGlyphs">Log<tspan font-size="7.5" dy="2.5">10</tspan><tspan dy="-2.5"> CFU/mL</tspan></text>
<path d="M183 245.6H194" stroke="#b8d8f2" stroke-width="1"/>
<rect x="185.65" y="242.75" width="5.7" height="5.7" fill="none" stroke="#b4d4f0" stroke-width="1"/>
<text x="202.6" y="248.9" font-size="10.4" fill="#2a2a2a" textLength="82" lengthAdjust="spacingAndGlyphs">0.25 mg/L HY-133</text>
<path d="M183 257.4H194" stroke="#7ab2e2" stroke-width="1"/>
<rect x="185.65" y="254.55" width="5.7" height="5.7" fill="none" stroke="#74aee0" stroke-width="1"/><path d="M185.65 254.55L191.35 260.25M191.35 254.55L185.65 260.25" stroke="#74aee0" stroke-width="0.8"/>
<text x="202.6" y="260.7" font-size="10.4" fill="#2a2a2a" textLength="76" lengthAdjust="spacingAndGlyphs">0.5 mg/L HY-133</text>
<path d="M299 245.6H310" stroke="#6a6af2" stroke-width="1"/>
<rect x="301.65" y="242.75" width="5.7" height="5.7" fill="none" stroke="#6c6cf2" stroke-width="1"/><rect x="301.15" y="242.25" width="3.55" height="6.7" fill="#4646f4"/>
<text x="317" y="248.9" font-size="10.4" fill="#2a2a2a" textLength="68" lengthAdjust="spacingAndGlyphs">1 mg/L HY-133</text>
<path d="M299 257.6H310" stroke="#5656ec" stroke-width="1"/>
<rect x="301.15" y="254.25" width="6.7" height="6.7" fill="#1212c8"/>
<text x="317" y="260.9" font-size="10.4" fill="#2a2a2a" textLength="68" lengthAdjust="spacingAndGlyphs">4 mg/L HY-133</text>
<path d="M299 269.6H310" stroke="#8a8a8a" stroke-width="1"/>
<path d="M304.5 266.2V273M301.1 269.6H307.9M301.98 267.08L307.02 272.12M307.02 267.08L301.98 272.12" stroke="#222222" stroke-width="0.9"/>
<text x="317" y="272.9" font-size="10.4" fill="#2a2a2a" textLength="65" lengthAdjust="spacingAndGlyphs">Growth control</text>
</svg></body></html>
